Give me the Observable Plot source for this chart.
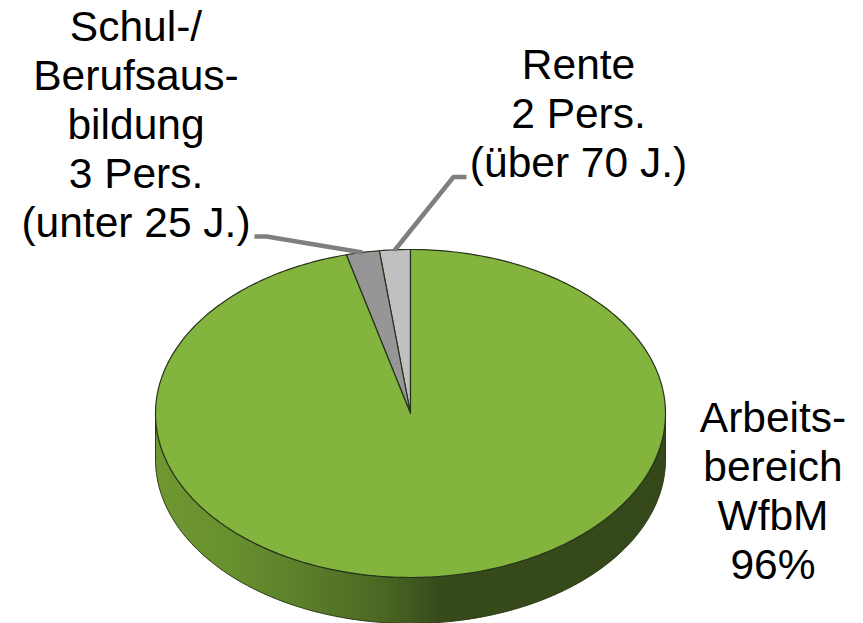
<!DOCTYPE html>
<html><head><meta charset="utf-8">
<style>html,body{margin:0;padding:0;background:#fff}svg{display:block}</style>
<script src="https://cdn.jsdelivr.net/npm/d3@7"></script>
<script src="https://cdn.jsdelivr.net/npm/@observablehq/plot@0.6"></script>
</head><body><script>
// data: shares in percent, counter-clockwise from the top
const sliceNames = ["Rente", "Schul", "Arbeit"];
const sliceValues = [1.95, 2.1, 95.95];
const sliceColors = ["#c0c0c0", "#969696", "#83b53e"];
const labelTexts = [
  "Schul-/\nBerufsaus-\nbildung\n3 Pers.\n(unter 25 J.)",
  "Rente\n2 Pers.\n(über 70 J.)",
  "Arbeits-\nbereich\nWfbM\n96%"
];
// layout
const labelX = [135.5, 578, 772.5], labelY = [122.5, 112, 489];
const W = 863, H = 623, cx = 410, cy = 413, rx = 255, ry = 164, depth = 46;
const pt = (a, dy = 0) => ({x: cx + rx * Math.sin(a), y: cy - ry * Math.cos(a) + dy});
const leaders = [
  {id: "l", p: [[254, 236], [266, 236], [362, 252]]},
  {id: "r", p: [[394, 250], [453, 176.5], [466, 176.5]]}
].flatMap(d => d.p.map(([x, y]) => ({id: d.id, x, y})));

let a0 = 0;
const wedges = sliceNames.flatMap((name, i) => {
  const a1 = a0 - sliceValues[i] / 100 * 2 * Math.PI;
  const n = Math.max(4, Math.ceil(Math.abs(a1 - a0) * 60));
  const arc = d3.range(n + 1).map(k => pt(a0 + (a1 - a0) * k / n));
  a0 = a1;
  return [{x: cx, y: cy}, ...arc, {x: cx, y: cy}].map(p => ({...p, name}));
});
const wallAngles = d3.range(0, 241).map(k => Math.PI / 2 + k / 240 * Math.PI);
const wall = [...wallAngles.map(a => pt(a)), ...wallAngles.slice().reverse().map(a => pt(a, depth))];
wall.push(wall[0]);

const labels = labelTexts.map((text, i) => ({text, x: labelX[i], y: labelY[i]}));

const gradient = () => {
  const defs = d3.create("svg:defs");
  const g = defs.append("linearGradient").attr("id", "wall");
  [[0, "#6f9832"], [0.15, "#67902f"], [0.3, "#5a7d2a"], [0.45, "#4a6622"], [0.56, "#364a1a"], [1, "#34481a"]]
    .forEach(([o, c]) => g.append("stop").attr("offset", o).attr("stop-color", c));
  return defs.node();
};

const chart = Plot.plot({
  width: W, height: H, margin: 0,
  x: {domain: [0, W], range: [0, W], axis: null},
  y: {domain: [0, H], range: [0, H], axis: null},
  color: {domain: sliceNames, range: sliceColors},
  style: {background: "#fff", overflow: "hidden"},
  marks: [
    gradient,
    Plot.line(wall, {x: "x", y: "y", fill: "url(#wall)", stroke: "#2b3a14", strokeWidth: 1}),
    Plot.line(wedges, {x: "x", y: "y", z: "name", fill: "name", stroke: "#26331a", strokeWidth: 1.2}),
    Plot.line(leaders, {x: "x", y: "y", z: "id", stroke: "#7f7f7f", strokeWidth: 4.5, strokeLinejoin: "miter", strokeLinecap: "butt"}),
    Plot.text(labels, {x: "x", y: "y", text: "text", fontFamily: "'Liberation Sans', Arial, sans-serif", fontSize: 42.5, lineHeight: 1.153, fill: "#000", textAnchor: "middle", lineAnchor: "middle"})
  ]
});
document.body.appendChild(chart);
</script></body></html>
